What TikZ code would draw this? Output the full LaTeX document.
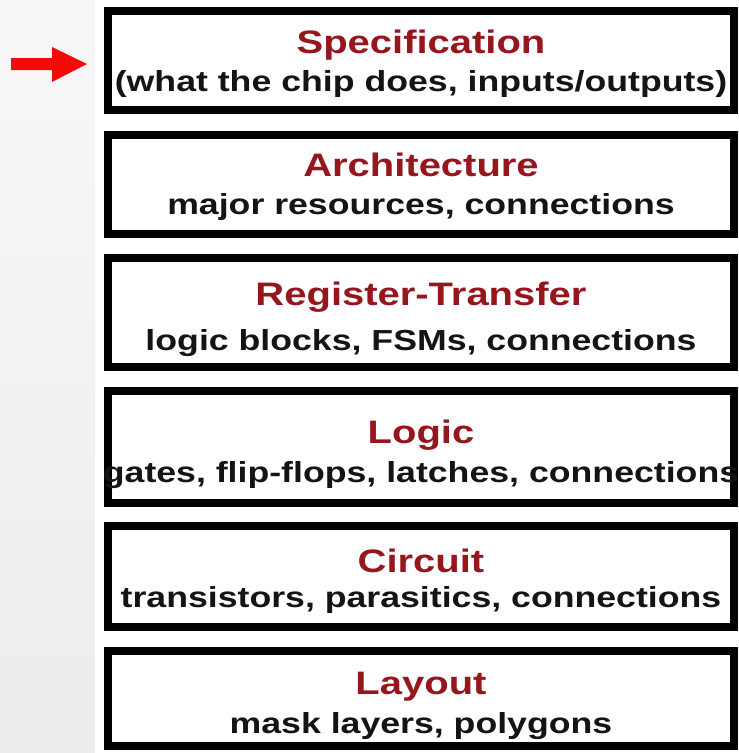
\documentclass[tikz,border=0pt]{standalone}
\usepackage{fontspec}
\setmainfont{Liberation Sans}[FakeStretch=1.23]
\definecolor{titlered}{RGB}{150,22,30}
\definecolor{stripgray}{RGB}{236,236,236}
\definecolor{arrowred}{RGB}{245,10,10}
\tikzset{
  layerbox/.style={draw=black, line width=8pt, minimum width=626pt, inner sep=0pt, fill=white},
  layertitle/.style={anchor=base, inner sep=0pt, text=titlered,
    font=\fontsize{32.5}{39}\selectfont\bfseries},
  layersub/.style={anchor=base, inner sep=0pt, text=black!92,
    font=\fontsize{29}{35}\selectfont\bfseries},
}
\begin{document}
\begin{tikzpicture}[x=1pt,y=-1pt]
  \useasboundingbox (0,0) rectangle (739,753);
  % grey margin strip on the left
  \shade[top color=white!97!black, bottom color=stripgray] (0,0) rectangle (95,753);

  % the six abstraction levels
  \node[layerbox, minimum height=99pt]  (spec) at (421,60.5) {};
  \node[layerbox, minimum height=99pt]  (arch) at (421,184) {};
  \node[layerbox, minimum height=109pt] (rtl)  at (421,312.5) {};
  \node[layerbox, minimum height=112pt] (logic) at (421,447) {};
  \node[layerbox, minimum height=101pt] (circ) at (421,576.5) {};
  \node[layerbox, minimum height=95pt]  (lay)  at (421,698.5) {};

  \node[layertitle] (specT) at (421,53) {Specification};
  \node[layersub]   (specS) at (421,91) {(what the chip does, inputs/outputs)};
  \node[layertitle] (archT) at (421,176) {Architecture};
  \node[layersub]   (archS) at (421,214) {major resources, connections};
  \node[layertitle] (rtlT)  at (421,305) {Register-Transfer};
  \node[layersub]   (rtlS)  at (421,350) {logic blocks, FSMs, connections};
  \node[layertitle] (logicT) at (421,443) {Logic};
  \node[layersub]   (logicS) at (421,482) {gates, flip-flops, latches, connections};
  \node[layertitle] (circT) at (421,572) {Circuit};
  \node[layersub]   (circS) at (421,607) {transistors, parasitics, connections};
  \node[layertitle] (layT)  at (421,694) {Layout};
  \node[layersub]   (layS)  at (421,733) {mask layers, polygons};

  % pointer to the current level
  \fill[arrowred] (11,58) -- (52,58) -- (52,47) -- (87,64) -- (52,82) -- (52,70) -- (11,70) -- cycle;
\end{tikzpicture}
\end{document}
